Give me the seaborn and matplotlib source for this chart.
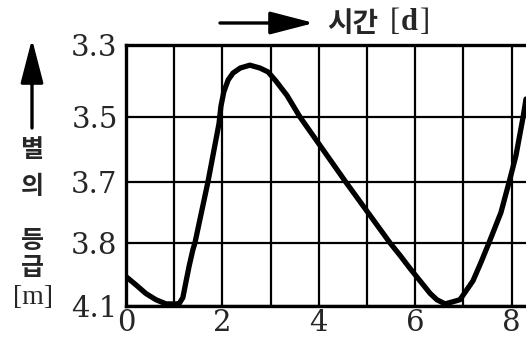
import numpy as np
import pandas as pd
import matplotlib
matplotlib.use("Agg")
import matplotlib.pyplot as plt
import seaborn as sns

# Light curve (time in days, apparent magnitude)
days = [0.00, 0.21, 0.41, 0.62, 0.83, 1.04, 1.10, 1.18, 1.24, 1.31,
        1.39, 1.43, 1.70, 1.93, 1.97, 2.03, 2.12, 2.22, 2.37, 2.57,
        2.78, 2.95, 3.11, 3.34, 3.61, 4.56, 5.48, 5.69, 5.89, 6.10,
        6.31, 6.45, 6.62, 6.78, 6.93, 7.20, 7.37, 7.53, 7.78, 7.95,
        8.09, 8.24, 8.30]
magnitude = [3.96, 4.00, 4.04, 4.07, 4.09, 4.09, 4.09, 4.06, 3.99, 3.91,
             3.83, 3.80, 3.70, 3.52, 3.47, 3.43, 3.397, 3.378, 3.364, 3.356,
             3.364, 3.375, 3.40, 3.44, 3.50, 3.70, 3.80, 3.86, 3.92, 3.98,
             4.04, 4.07, 4.09, 4.08, 4.07, 3.98, 3.89, 3.80, 3.75, 3.70,
             3.62, 3.50, 3.45]

# Axis labels (grid rows are not spaced by value in the original)
mag_ticks = [3.3, 3.5, 3.7, 3.8, 4.1]
mag_labels = ["3.3", "3.5", "3.7", "3.8", "4.1"]
day_ticks = [0, 2, 4, 6, 8]
day_grid = [1, 3, 5, 7]

data = pd.DataFrame({"day": days, "mag": magnitude})

sns.set_style("white")
plt.rcParams['font.family'] = ['DejaVu Serif', 'Noto Sans CJK KR', 'DejaVu Sans']

# where each labelled row sits on the drawn axis
row_pos = np.array([0, 72, 137, 198, 261], dtype=float)


def fwd(m):
    return np.interp(m, mag_ticks, row_pos)


def inv(r):
    return np.interp(r, row_pos, mag_ticks)


fig = plt.figure(figsize=(5.26, 3.41), dpi=100)
ax = fig.add_axes([126 / 526, 1 - 306 / 341, 400 / 526, 261 / 341])

ax.set_yscale('function', functions=(fwd, inv))

sns.lineplot(data=data, x="day", y="mag", ax=ax, color="black",
             linewidth=3.8, sort=False, zorder=5)
ax.lines[0].set_solid_joinstyle("round")
ax.lines[0].set_solid_capstyle("round")

ax.set_xlim(0, 8.30)
ax.set_ylim(4.1, 3.3)

ax.set_xticks(day_ticks)
ax.set_xticks(day_grid, minor=True)
ax.set_yticks(mag_ticks)
ax.set_yticklabels(mag_labels)
ax.yaxis.set_minor_locator(matplotlib.ticker.NullLocator())

ax.grid(True, which="both", color="black", linewidth=1.6)
ax.tick_params(which="both", length=0)
ax.tick_params(axis="y", labelsize=21, pad=6)
ax.tick_params(axis="x", labelsize=21, pad=2)
ax.set_xlabel("")
ax.set_ylabel("")

for side in ["left", "top", "bottom"]:
    ax.spines[side].set_color("black")
    ax.spines[side].set_linewidth(2.4)
ax.spines["right"].set_visible(False)

kr = ['Noto Sans CJK KR', 'DejaVu Sans']

# y label: arrow up with stacked Korean text
fig.patches.append(matplotlib.patches.FancyArrowPatch(
    (32 / 526, 1 - 128 / 341), (32 / 526, 1 - 39 / 341),
    transform=fig.transFigure, arrowstyle="-|>,head_length=27,head_width=7",
    mutation_scale=1, color="black", linewidth=2.4, shrinkA=0, shrinkB=0))
for ch, py in [("별", 150), ("의", 187), ("등", 241), ("급", 268)]:
    fig.text(32 / 526, 1 - py / 341, ch, ha="center", va="center",
             fontsize=18, fontweight="bold", family=kr)
fig.text(33 / 526, 1 - 297 / 341, "[m]", ha="center", va="center",
         fontsize=20, family=['Liberation Serif'])

# x label: arrow right with text
fig.patches.append(matplotlib.patches.FancyArrowPatch(
    (220 / 526, 1 - 23 / 341), (314 / 526, 1 - 23 / 341),
    transform=fig.transFigure, arrowstyle="-|>,head_length=27,head_width=7",
    mutation_scale=1, color="black", linewidth=2.4, shrinkA=0, shrinkB=0))
fig.text(327 / 526, 1 - 24 / 341, "시간", ha="left", va="center",
         fontsize=20, fontweight="bold", family=kr)
fig.text(390 / 526, 1 - 23 / 341, "[", ha="left", va="center",
         fontsize=22, family=['Liberation Serif'])
fig.text(401 / 526, 1 - 23 / 341, "d", ha="left", va="center",
         fontsize=22, fontweight="bold", family=['Liberation Serif'])
fig.text(420 / 526, 1 - 23 / 341, "]", ha="left", va="center",
         fontsize=22, family=['Liberation Serif'])

fig.savefig("out.png", dpi=100)
